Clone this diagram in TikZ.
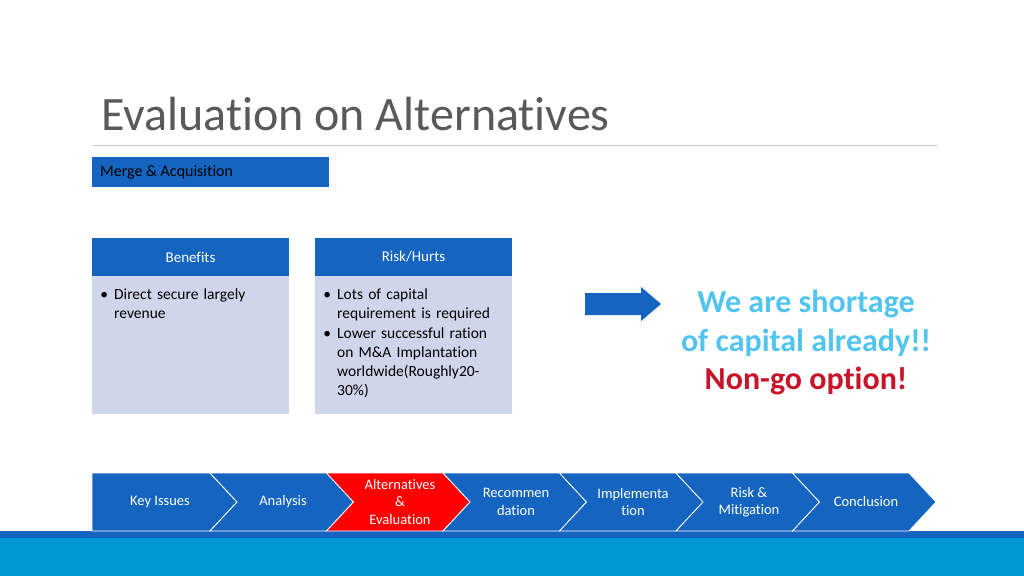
\documentclass[tikz,border=0pt]{standalone}
\usepackage{fontspec}
\setmainfont{Carlito}[Ligatures={NoCommon}]
\usetikzlibrary{positioning}
\definecolor{slideblue}{RGB}{21, 101, 192}
\definecolor{bodylav}{RGB}{207, 213, 234}
\definecolor{bandblue}{RGB}{0, 153, 214}
\definecolor{skytext}{RGB}{82, 196, 240}
\definecolor{nogored}{RGB}{200, 20, 40}

\newenvironment{bulletlist}{\begin{list}{\textbullet}{\setlength{\leftmargin}{14pt}\setlength{\labelsep}{6pt}%
  \setlength{\labelwidth}{8pt}\setlength{\itemsep}{1pt}\setlength{\topsep}{0pt}\setlength{\parsep}{0pt}\setlength{\partopsep}{0pt}}\raggedright}{\end{list}}

\tikzset{
  headbox/.style={text=white, font=\fontsize{15}{18}\selectfont},
  bodytext/.style={anchor=north west, text width=175pt, align=left,
    font=\fontsize{15.5}{19}\selectfont, inner sep=0pt},
  stagetext/.style={text=white, align=center, font=\fontsize{14.5}{17.5}\selectfont},
  bigtext/.style={font=\bfseries\fontsize{32}{39}\selectfont, align=center}
}

\begin{document}
\begin{tikzpicture}[x=1pt, y=-1pt]
    \useasboundingbox (0,0) rectangle (1024,576);
    \fill[white] (0,0) rectangle (1024,576);

    % Title
    \node[anchor=base west, text=black!65, font=\fontsize{48}{54}\selectfont, inner sep=0pt]
      (title) at (101,130) {Evaluation on Alternatives};
    \draw[black!20, line width=1pt] (92,145) -- (938,145);

    % Section tag
    \fill[slideblue] (92,157) rectangle (329,187);
    \node[anchor=west, font=\fontsize{16}{19}\selectfont, inner sep=0pt] (tag) at (100,172) {Merge \& Acquisition};

    % Benefits
    \fill[slideblue] (92,238) rectangle (289,276);
    \fill[bodylav] (92,276) rectangle (289,414);
    \node[headbox] (benefits) at (190.5,257) {Benefits};
    \node[bodytext] (benlist) at (100,280) {%
      \begin{bulletlist}
      \item Direct secure largely revenue
      \end{bulletlist}};

    % Risk/Hurts
    \fill[slideblue] (315,238) rectangle (512,276);
    \fill[bodylav] (315,276) rectangle (512,414);
    \node[headbox] (risk) at (413.5,257) {Risk/Hurts};
    \node[bodytext] (risklist) at (323,280) {%
      \begin{bulletlist}
      \item Lots of capital requirement is required
      \item Lower successful ration on M\&A Implantation worldwide(Roughly20-30\%)
      \end{bulletlist}};

    % Arrow
    \fill[slideblue] (585,293) -- (641,293) -- (641,287) -- (661,304)
      -- (641,321) -- (641,315) -- (585,315) -- cycle;

    % Conclusion text
    \node[bigtext, text=skytext] (short) at (806,323) {We are shortage\\of capital already!!};
    \node[bigtext, text=nogored] (nogo) at (806,381) {Non-go option!};

    % Bottom band
    \fill[slideblue] (0,531) rectangle (1024,538);
    \fill[bandblue] (0,538) rectangle (1024,576);

    % Stages
    \fill[slideblue, draw=white, line width=0.8pt] (92,473) -- (210,473) -- (237,502) -- (210,531) -- (92,531) -- cycle;
    \foreach \i/\col in {1/slideblue,2/red,3/slideblue,4/slideblue,5/slideblue,6/slideblue}{
      \pgfmathsetmacro{\xa}{210+(\i-1)*116.5}
      \pgfmathsetmacro{\xb}{\xa+116.5}
      \fill[\col, draw=white, line width=0.8pt] (\xa,473) -- (\xb,473) -- (\xb+27,502)
        -- (\xb,531) -- (\xa,531) -- (\xa+27,502) -- cycle;
    }
    \node[stagetext] (s1) at (160,502) {Key Issues};
    \node[stagetext] (s2) at (283,502) {Analysis};
    \node[stagetext] (s3) at (400,502) {Alternatives\\\&\\Evaluation};
    \node[stagetext] (s4) at (516,502) {Recommen\\dation};
    \node[stagetext] (s5) at (633,502) {Implementa\\tion};
    \node[stagetext] (s6) at (749,502) {Risk \&\\Mitigation};
    \node[stagetext] (s7) at (866,502) {Conclusion};
\end{tikzpicture}
\end{document}
